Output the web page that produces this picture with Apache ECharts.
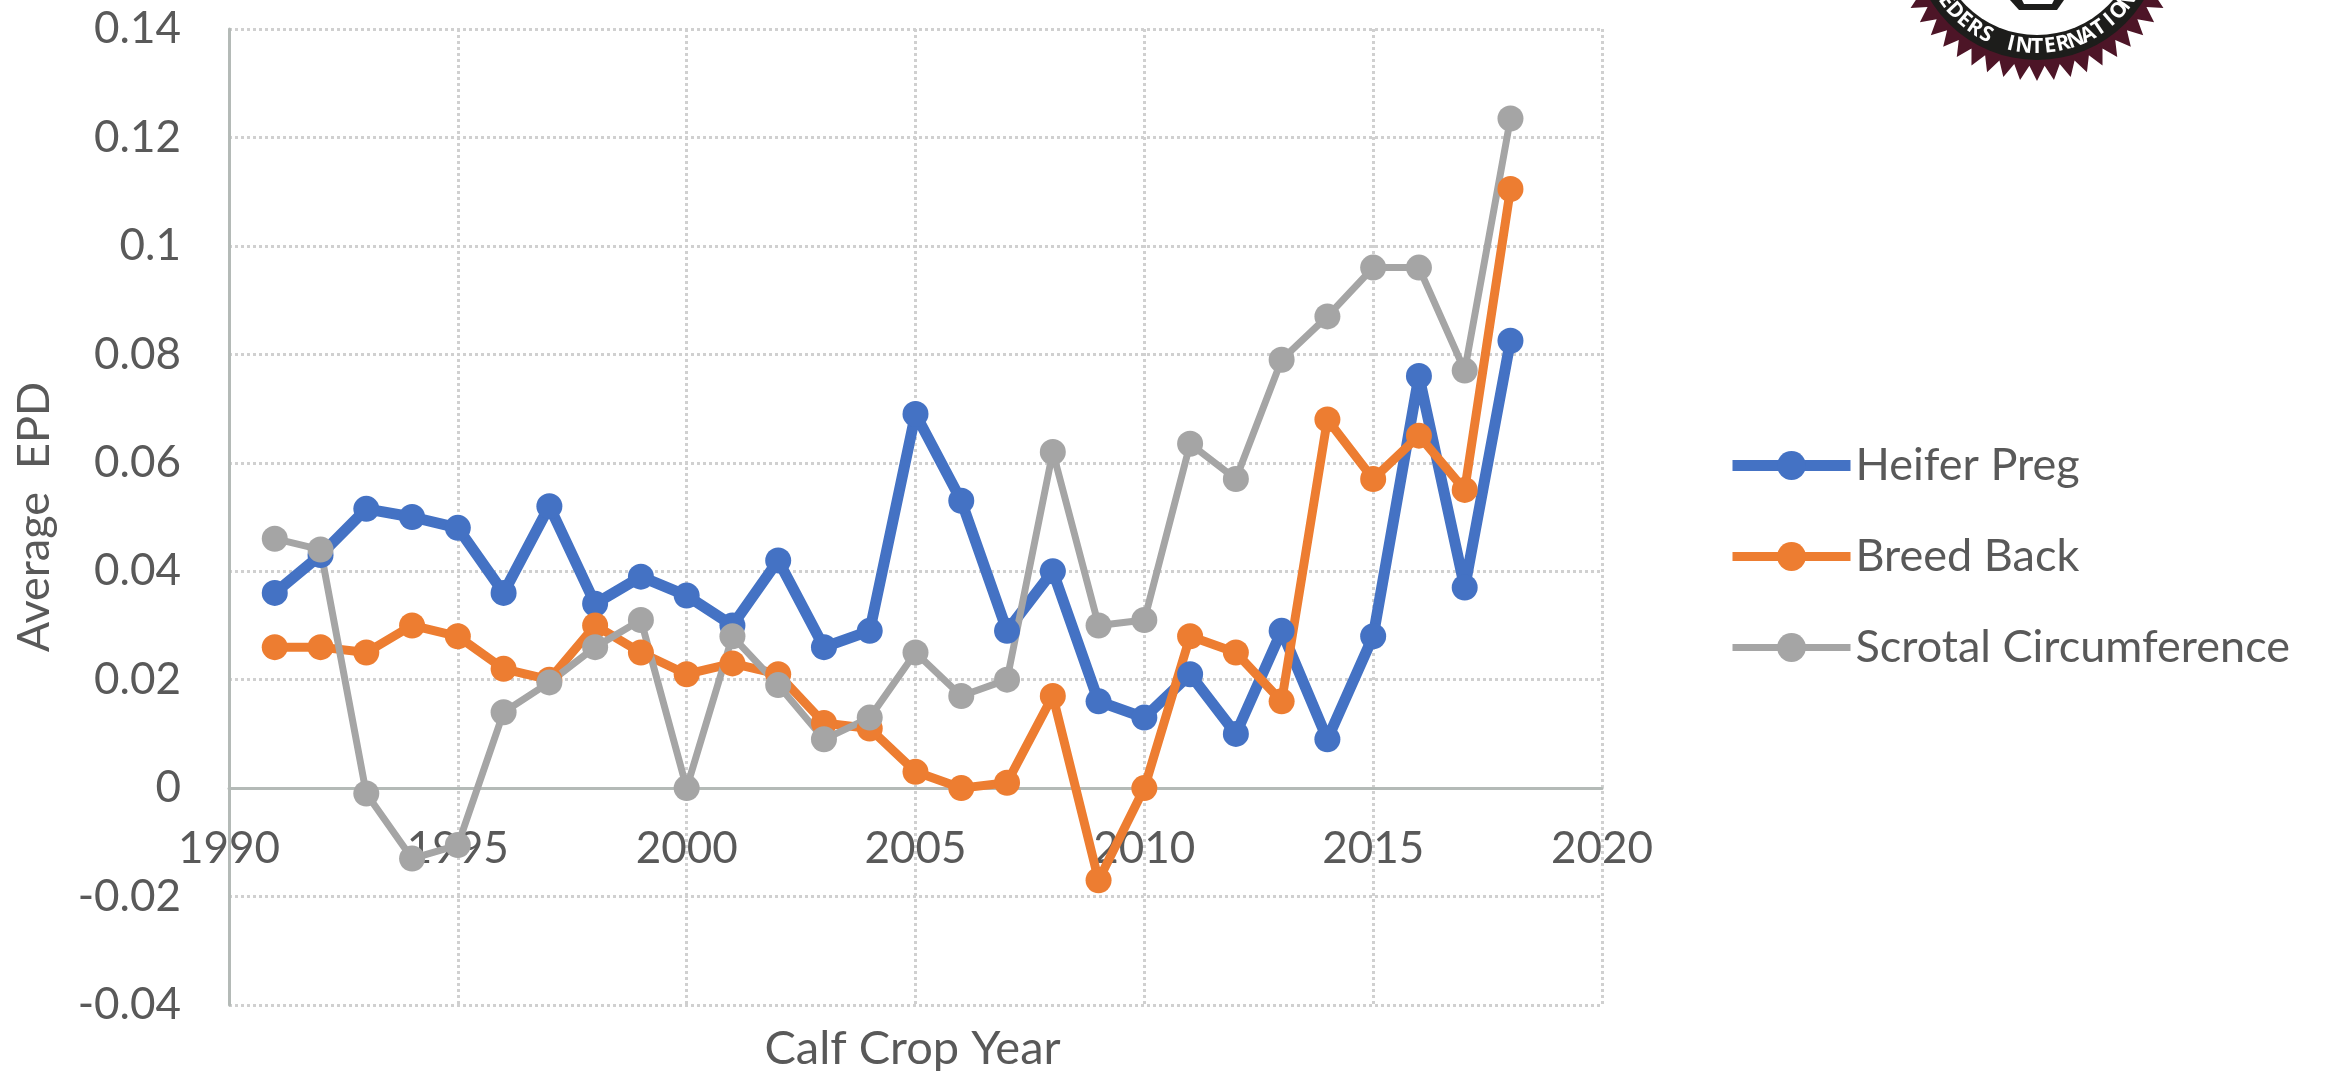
<!DOCTYPE html>
<html>
<head>
<meta charset="utf-8">
<title>Average EPD by Calf Crop Year</title>
<style>
html, body { margin: 0; padding: 0; background: #fff; }
#chart { width: 2329px; height: 1071px; }
</style>
<script src="https://cdn.jsdelivr.net/npm/echarts@6/dist/echarts.min.js"></script>
</head>
<body>
<div id="chart"></div>
<script>
var years = [1991, 1992, 1993, 1994, 1995, 1996, 1997, 1998, 1999, 2000, 2001, 2002, 2003, 2004,
  2005, 2006, 2007, 2008, 2009, 2010, 2011, 2012, 2013, 2014, 2015, 2016, 2017, 2018]
var heiferPreg = [0.036, 0.043, 0.0515, 0.05, 0.048, 0.036, 0.052, 0.034, 0.039, 0.0355, 0.03, 0.042, 0.026, 0.029,
  0.069, 0.053, 0.029, 0.04, 0.016, 0.013, 0.021, 0.01, 0.029, 0.009, 0.028, 0.076, 0.037, 0.0825]
var breedBack = [0.026, 0.026, 0.025, 0.03, 0.028, 0.022, 0.02, 0.03, 0.025, 0.021, 0.023, 0.021, 0.012, 0.011,
  0.003, 0, 0.001, 0.017, -0.017, 0, 0.028, 0.025, 0.016, 0.068, 0.057, 0.065, 0.055, 0.1105]
var scrotalCirc = [0.046, 0.044, -0.001, -0.013, -0.0105, 0.014, 0.0195, 0.026, 0.031, 0, 0.028, 0.019, 0.009, 0.013,
  0.025, 0.017, 0.02, 0.062, 0.03, 0.031, 0.0635, 0.057, 0.079, 0.087, 0.096, 0.096, 0.077, 0.1235]

var textColor = '#595959'
var fontName = 'Lato, "Liberation Sans", sans-serif'
var blueWidth = 11
var orangeWidth = 9
var grayWidth = 7

function pairs (vals) {
  return vals.map(function (v, i) { return [years[i], v] })
}

function lineSeries (name, vals, color, width) {
  return {
    name: name,
    type: 'line',
    data: pairs(vals),
    symbol: 'circle',
    symbolSize: 26,
    color: color,
    lineStyle: { color: color, width: width },
    itemStyle: { color: color },
    z: 5
  }
}

// seal in the top right corner, cut off by the page edge
function logo () {
  var cx = 2037
  var cy = -65
  var teeth = 54
  var pts = []
  for (var i = 0; i < teeth * 2; i++) {
    var a = Math.PI * i / teeth + Math.PI / 2
    var r = i % 2 === 0 ? 146 : 131
    pts.push([cx + r * Math.cos(a), cy + r * Math.sin(a)])
  }
  var items = [
    { type: 'polygon', shape: { points: pts }, style: { fill: '#4d1527' } },
    { type: 'circle', shape: { cx: cx, cy: cy, r: 125 }, style: { fill: '#1d1d1b' } },
    { type: 'circle', shape: { cx: cx, cy: cy, r: 100 }, style: { fill: '#fff' } },
    { type: 'polygon', shape: { points: [[2010, 0], [2019, 10], [2057, 10], [2064, 0]] }, style: { fill: '#1d1d1b' } },
    { type: 'polygon', shape: { points: [[2022, 0], [2024, 4], [2052, 4], [2054, 0]] }, style: { fill: '#fff' } }
  ]
  var word = 'BREEDERS INTERNATIONAL'
  var mid = word.indexOf('T')
  for (var k = 0; k < word.length; k++) {
    var ang = (k - mid) * 0.118
    items.push({
      type: 'text',
      x: cx + 112 * Math.sin(ang),
      y: cy + 112 * Math.cos(ang),
      rotation: ang,
      style: {
        text: word.charAt(k),
        fill: '#fff',
        font: 'bold 21px "Open Sans", sans-serif',
        textAlign: 'center',
        textVerticalAlign: 'middle'
      }
    })
  }
  return items
}

var charts = echarts.init(document.getElementById('chart'))
charts.setOption({
  animation: false,
  backgroundColor: '#fff',
  grid: { left: 229, right: 727, top: 29, bottom: 66, outerBoundsMode: 'none' },
  legend: {
    orient: 'vertical',
    left: 1722,
    top: 438,
    itemWidth: 118,
    itemHeight: 36,
    itemGap: 46,
    selectedMode: false,
    textStyle: { color: textColor, fontSize: 45, fontFamily: fontName },
    data: [
      { name: 'Heifer Preg', lineStyle: { width: blueWidth } },
      { name: 'Breed Back', lineStyle: { width: orangeWidth } },
      { name: 'Scrotal Circumference', lineStyle: { width: grayWidth } }
    ]
  },
  xAxis: {
    type: 'value',
    min: 1990,
    max: 2020,
    interval: 5,
    name: 'Calf Crop Year',
    nameLocation: 'middle',
    nameGap: 20,
    nameTextStyle: { color: textColor, fontSize: 47, fontFamily: fontName, padding: [0, 6, 0, 0] },
    axisLine: { show: true, onZero: true, lineStyle: { color: '#b4bab7', width: 3 } },
    axisTick: { show: false },
    axisLabel: { color: textColor, fontSize: 44, fontFamily: fontName, margin: -178, formatter: function (v) { return String(v) } },
    splitLine: { show: true, lineStyle: { color: '#d0d0d0', width: 3, type: 'dotted' } }
  },
  yAxis: {
    type: 'value',
    min: -0.04,
    max: 0.14,
    interval: 0.02,
    name: 'Average  EPD',
    nameLocation: 'middle',
    nameGap: 172,
    nameTextStyle: { color: textColor, fontSize: 45, fontFamily: fontName },
    axisLine: { show: true, onZero: false, lineStyle: { color: '#b4bab7', width: 3 } },
    axisTick: { show: false },
    axisLabel: { color: textColor, fontSize: 44, fontFamily: fontName, margin: 48 },
    splitLine: { show: true, lineStyle: { color: '#d0d0d0', width: 3, type: 'dotted' } }
  },
  series: [
    lineSeries('Heifer Preg', heiferPreg, '#4472c4', blueWidth),
    lineSeries('Breed Back', breedBack, '#ed7d31', orangeWidth),
    lineSeries('Scrotal Circumference', scrotalCirc, '#a5a5a5', grayWidth)
  ],
  graphic: logo()
})
window.addEventListener('resize', function () {
  charts.resize()
})
</script>
</body>
</html>
